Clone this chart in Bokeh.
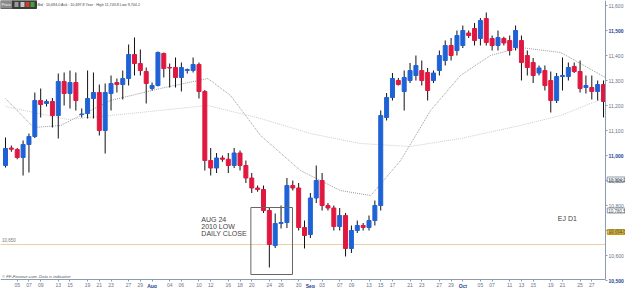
import pandas as pd
from bokeh.plotting import figure
from bokeh.models import Range1d, FixedTicker, Label, ColumnDataSource, LinearAxis
from bokeh.embed import file_html
from bokeh.resources import INLINE

# trading sessions (Sunday..Friday), 2010-07-02 .. 2010-10-29
days = [d for d in pd.date_range("2010-07-02", "2010-10-29") if d.weekday() != 5]

tick_dates = ["2010-07-05","2010-07-07","2010-07-09","2010-07-13","2010-07-15","2010-07-19",
              "2010-07-21","2010-07-23","2010-07-27","2010-07-29","2010-08-04","2010-08-06",
              "2010-08-10","2010-08-12","2010-08-16","2010-08-18","2010-08-20","2010-08-24",
              "2010-08-26","2010-08-30","2010-09-03","2010-09-07","2010-09-09","2010-09-13",
              "2010-09-15","2010-09-17","2010-09-21","2010-09-23","2010-09-27","2010-09-29",
              "2010-10-05","2010-10-07","2010-10-11","2010-10-13","2010-10-15","2010-10-19",
              "2010-10-21","2010-10-25","2010-10-27"]
month_dates = ["2010-08-01", "2010-09-01", "2010-10-01"]
month_labels = ["Aug", "Sep", "Oct"]
price_ticks = [10500, 10600, 10700, 10800, 10900, 11000, 11100, 11200, 11300, 11400, 11500, 11600]
bold_ticks = [10500, 11000, 11500]

opens = [10960, 11030, 11024, 10992, 11044, 11076, 11220, 11208, 11216, 11160, 11296, 11248,
         11292, 11164, 11168, 11228, 11252, 11100, 11248, 11292, 11284, 11308, 11404, 11368,
         11336, 11268, 11280, 11408, 11352, 11352, 11312, 11340, 11340, 11364, 11256, 10980,
         10950, 10990, 10985, 10960, 11010, 10960, 10910, 10870, 10864, 10780, 10640, 10728,
         10732, 10880, 10870, 10712, 10684, 10830, 10900, 10800, 10790, 10716, 10760, 10628,
         10700, 10720, 10712, 10740, 10800, 11152, 11232, 11300, 11256, 11300, 11320, 11340,
         11332, 11300, 11340, 11380, 11440, 11420, 11440, 11490, 11508, 11468, 11548, 11468,
         11440, 11468, 11460, 11432, 11460, 11400, 11372, 11330, 11340, 11300, 11220, 11316,
         11316, 11356, 11336, 11272, 11272, 11256, 11284]
closes = [11028, 11025, 10992, 11044, 11076, 11220, 11204, 11216, 11160, 11296, 11248, 11292,
          11220, 11166, 11228, 11252, 11100, 11252, 11288, 11284, 11308, 11404, 11368, 11340,
          11288, 11280, 11412, 11348, 11350, 11312, 11352, 11344, 11364, 11256, 10980, 10950,
          10990, 10985, 10960, 11010, 10960, 10910, 10870, 10864, 10780, 10644, 10728, 10732,
          10880, 10870, 10712, 10680, 10830, 10900, 10800, 10790, 10716, 10760, 10628, 10700,
          10720, 10712, 10740, 10800, 11160, 11232, 11308, 11284, 11312, 11340, 11360, 11300,
          11260, 11330, 11400, 11440, 11400, 11480, 11500, 11480, 11460, 11540, 11452, 11440,
          11472, 11450, 11420, 11500, 11372, 11352, 11320, 11350, 11280, 11220, 11316, 11320,
          11352, 11336, 11268, 11280, 11256, 11284, 11216]
highs = [11072, 11040, 11030, 11060, 11088, 11252, 11268, 11224, 11230, 11328, 11332, 11340,
         11332, 11188, 11340, 11332, 11284, 11288, 11320, 11308, 11340, 11444, 11472, 11424,
         11352, 11292, 11416, 11412, 11368, 11392, 11372, 11348, 11392, 11372, 11262, 11030,
         11010, 11000, 11010, 11030, 11020, 10980, 10930, 10880, 10880, 10790, 10768, 10800,
         10910, 10900, 10890, 10740, 10850, 10960, 10930, 10810, 10800, 10790, 10770, 10720,
         10740, 10730, 10760, 10820, 11180, 11250, 11330, 11310, 11340, 11370, 11400, 11380,
         11350, 11340, 11420, 11460, 11470, 11500, 11520, 11500, 11530, 11550, 11572, 11480,
         11500, 11475, 11480, 11520, 11480, 11420, 11390, 11360, 11360, 11336, 11330, 11392,
         11372, 11372, 11380, 11320, 11320, 11300, 11300]
lows = [10952, 11015, 10985, 10920, 10932, 11070, 11152, 11196, 11112, 11068, 11200, 11188,
        11180, 11152, 11148, 11148, 11080, 11008, 11180, 11252, 11224, 11280, 11320, 11320,
        11208, 11260, 11276, 11312, 11272, 11272, 11256, 11328, 11332, 11228, 10940, 10920,
        10930, 10975, 10930, 10950, 10940, 10890, 10850, 10855, 10770, 10552, 10630, 10708,
        10710, 10860, 10700, 10628, 10670, 10810, 10780, 10780, 10700, 10700, 10596, 10610,
        10690, 10700, 10700, 10720, 10780, 11140, 11220, 11280, 11180, 11290, 11300, 11280,
        11220, 11290, 11320, 11360, 11380, 11400, 11430, 11470, 11440, 11440, 11440, 11420,
        11420, 11440, 11400, 11420, 11300, 11320, 11290, 11320, 11260, 11172, 11210, 11260,
        11300, 11330, 11252, 11248, 11224, 11220, 11152]

fast_ma_idx = [0, 4.8, 9.4, 17.9, 26.4, 34.5, 38.4, 43.5, 50.3, 57.1, 62.3, 67.4, 72.5,
               77.6, 82.7, 87.8, 94.7, 102.3]
fast_ma = [11228, 11112, 11120, 11220, 11268, 11308, 11240, 11080, 10940, 10860, 10840, 10980,
           11180, 11320, 11400, 11432, 11412, 11312]
slow_ma_idx = [0, 10.6, 21.3, 34.5, 43.5, 52, 60.5, 69, 77.6, 87.8, 94.7, 102.3]
slow_ma = [11196, 11144, 11168, 11200, 11148, 11088, 11048, 11036, 11068, 11120, 11160, 11232]

low_line = 10644
bid_text = "Bid : 10,694.0  Ask : 10,697.8   Year : High 11,743.8  Low 9,704.2"

PX = 5.863          # pixels per session
X_END_PX = 605.0    # right axis position in pixels
Y_PER_PX = 4.0      # price units per pixel
x0 = -5 / PX
x_axis_at = (X_END_PX - 5) / PX
y_top = 11620
y_bottom = y_top - 288 * Y_PER_PX
y_axis_at = y_top - 279 * Y_PER_PX

x = list(range(len(opens)))
inc = [c >= o for o, c in zip(opens, closes)]
src = ColumnDataSource(dict(
    x=x, o=opens, c=closes, h=highs, l=lows,
    top=[max(o, c) for o, c in zip(opens, closes)],
    bot=[min(o, c) for o, c in zip(opens, closes)],
    col=["#1f62d6" if u else "#e0183f" for u in inc]))

p = figure(width=625, height=288, output_backend="svg", toolbar_location=None,
           x_range=Range1d(x0, x0 + 625 / PX), y_range=Range1d(y_bottom, y_top),
           x_axis_location=None, y_axis_location=None,
           min_border_left=0, min_border_top=0, min_border_bottom=0, min_border_right=0,
           background_fill_color="white", border_fill_color="white", outline_line_color=None)
p.grid.visible = False

day_index = {d.strftime("%Y-%m-%d"): i for i, d in enumerate(days)}


def style(ax, color="#6a7384", bold=False, line=True, size="5px"):
    ax.axis_line_color = "#8b9bb4" if line else None
    ax.major_tick_line_color = "#8b9bb4" if line else None
    ax.minor_tick_line_color = None
    ax.major_label_text_font = "Liberation Sans"
    ax.major_label_text_font_size = size
    ax.major_label_text_color = color
    ax.major_label_text_font_style = "bold" if bold else "normal"
    ax.major_label_standoff = 1
    ax.major_tick_in = 0
    ax.major_tick_out = 2


yax = LinearAxis(fixed_location=x_axis_at, bounds=(y_axis_at, y_top),
                 ticker=FixedTicker(ticks=price_ticks))
style(yax)
yax.major_label_overrides = {v: ("" if v in bold_ticks else f"{v:,}") for v in price_ticks}
p.add_layout(yax, "right")

yax_b = LinearAxis(fixed_location=x_axis_at, ticker=FixedTicker(ticks=bold_ticks))
style(yax_b, color="#1f3f8f", bold=True, line=False)
yax_b.major_label_overrides = {v: f"{v:,}" for v in bold_ticks}
p.add_layout(yax_b, "right")

xt = [day_index[d] for d in tick_dates]
xax = LinearAxis(fixed_location=y_axis_at, bounds=(x0, x_axis_at),
                 ticker=FixedTicker(ticks=xt + [day_index[d] for d in month_dates]))
style(xax)
xax.major_label_overrides = {day_index[d]: d[-2:] for d in tick_dates}
xax.major_label_overrides.update({day_index[d]: "" for d in month_dates})
p.add_layout(xax, "below")

xax_m = LinearAxis(fixed_location=y_axis_at, ticker=FixedTicker(ticks=[day_index[d] for d in month_dates]))
style(xax_m, color="#1f3f8f", bold=True, line=False)
xax_m.major_label_overrides = {day_index[d]: t for d, t in zip(month_dates, month_labels)}
p.add_layout(xax_m, "below")

# moving averages
p.line(fast_ma_idx, fast_ma, line_color="#9a9a9a", line_dash="1 1", line_width=1)
p.line(slow_ma_idx, slow_ma, line_color="#cccccc", line_dash="1 1", line_width=1)

# low reference line
p.line([x0, x_axis_at], [low_line, low_line], line_color="#d7a04a", line_dash="1 1", line_width=1)

# candles
p.segment("x", "h", "x", "l", source=src, line_color="#111111", line_width=1)
p.vbar(x="x", top="top", bottom="bot", width=0.68, source=src, fill_color="col", line_color="col")

# annotation box and text
box_c = day_index["2010-08-24"]
p.quad(left=[box_c - 3.15], right=[box_c + 3.95], top=[10792], bottom=[10524],
       fill_color=None, line_color="#666666", line_width=1)
for k, t in enumerate(["AUG 24", "2010 LOW", "DAILY CLOSE"]):
    p.add_layout(Label(x=box_c - 11.6, y=10744 - k * 28, text=t,
                       text_font="Liberation Sans", text_font_size="7px", text_color="#444444",
                       text_baseline="middle"))
p.add_layout(Label(x=94.2, y=10748, text="EJ D1",
                   text_font="Liberation Sans", text_font_size="7px", text_color="#444444",
                   text_baseline="middle"))
p.add_layout(Label(x=-0.6, y=low_line + 10, text="10,650", text_font="Liberation Sans",
                   text_font_size="4.5px", text_color="#777777", text_baseline="bottom"))
p.add_layout(Label(x=-0.6, y=y_axis_at + 4, text="© FF-Finance.com. Data is indicative",
                   text_font="Liberation Sans", text_font_style="italic",
                   text_font_size="4.2px", text_color="#555555", text_baseline="bottom"))

# price markers on the right axis
marker_vals = [10904, 10780, 10694]
marker_text = ["10,904.2", "10,780.5", "10,694.0"]
marker_fill = ["white", "white", "#f2c21b"]
marker_line = ["#8b9bb4", "#8b9bb4", "#c89a10"]
mx = x_axis_at + 0.3
p.quad(left=[mx] * 3, right=[mx + 3.0] * 3, top=[v + 10 for v in marker_vals],
       bottom=[v - 10 for v in marker_vals], fill_color=marker_fill, line_color=marker_line)
for v, t in zip(marker_vals, marker_text):
    p.add_layout(Label(x=mx + 0.15, y=v, text=t, text_font="Liberation Sans",
                       text_font_size="4.5px", text_color="#555555", text_baseline="middle"))

# header
p.quad(left=[x0], right=[x0 + 12 / PX], top=[y_top], bottom=[y_top - 8 * Y_PER_PX],
       fill_color="#8a8a8a", line_color="#666666")
p.add_layout(Label(x=x0 + 1 / PX, y=y_top - 4 * Y_PER_PX, text="Price", text_font="Liberation Sans",
                   text_font_size="4px", text_color="white", text_baseline="middle"))
p.quad(left=[x0 + 12 / PX], right=[x0 + 36 / PX], top=[y_top], bottom=[y_top - 8 * Y_PER_PX],
       fill_color="#3c3c3c", line_color="#3c3c3c")
icon_l = [14, 20, 25, 30]
icon_c = ["#9a9a9a", "#c8c8c8", "#d23a2a", "#3aa33a"]
p.quad(left=[x0 + v / PX for v in icon_l], right=[x0 + (v + 4) / PX for v in icon_l],
       top=[y_top - 1.5 * Y_PER_PX] * 4, bottom=[y_top - 6.5 * Y_PER_PX] * 4,
       fill_color=icon_c, line_color=None)
p.add_layout(Label(x=x0 + 37 / PX, y=y_top - 4 * Y_PER_PX, text=bid_text,
                   text_font="Liberation Sans", text_font_size="3.7px", text_color="#444444",
                   text_baseline="middle"))

open("out.html", "w").write(file_html(p, INLINE))
